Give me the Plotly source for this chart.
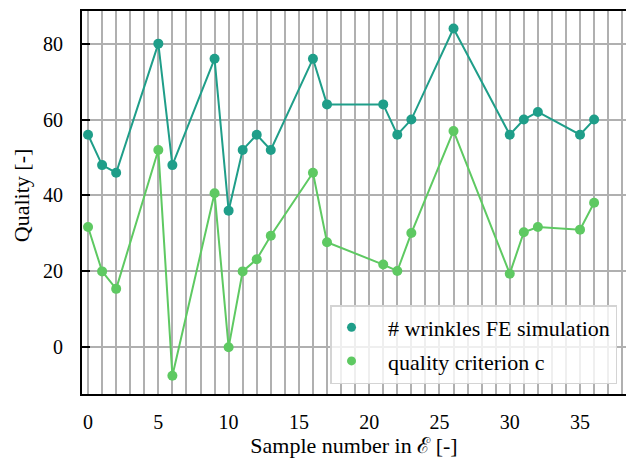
import plotly.graph_objects as go

x_samples = [0, 1, 2, 5, 6, 9, 10, 11, 12, 13, 16, 17, 21, 22, 23, 26, 30, 31, 32, 35, 36]
wrinkles = [56, 48, 46, 80, 48, 76, 36, 52, 56, 52, 76, 64, 64, 56, 60, 84, 56, 60, 62, 56, 60]
quality_c = [31.7, 20, 15.4, 52, -7.5, 40.6, 0, 20, 23.2, 29.4, 46, 27.7, 21.8, 20.1, 30.1, 57, 19.4, 30.3, 31.7, 31, 38.1]
x_ticks = [0, 5, 10, 15, 20, 25, 30, 35]
y_ticks = [0, 20, 40, 60, 80]

names = ["# wrinkles FE simulation", "quality criterion c"]
colors = ["#1f9e89", "#5ec962"]
series = [wrinkles, quality_c]

fig = go.Figure()
for name, col, ys in zip(names, colors, series):
    fig.add_trace(go.Scatter(x=x_samples, y=ys, mode="lines+markers", showlegend=False,
                             line=dict(color=col, width=2), marker=dict(color=col, size=10)))
for name, col in zip(names, colors):
    fig.add_trace(go.Scatter(x=[None], y=[None], mode="markers", name="\u00a0\u00a0\u00a0" + name,
                             legendgroup=name, marker=dict(color=col, size=9), yaxis="y2"))

fam = "Liberation Serif"
fig.add_annotation(text="Quality [-]", textangle=-90, xref="paper", yref="paper",
                   x=-0.110, y=0.517, xanchor="center", yanchor="middle", showarrow=False,
                   font=dict(family=fam, size=22, color="#000000"))
yrange = [-12.3, 88.6]
fig.update_layout(
    width=626, height=465,
    margin=dict(l=82, r=0, t=11, b=71),
    plot_bgcolor="white", paper_bgcolor="white",
    font=dict(family=fam, size=20, color="#000000"),
    legend=dict(x=0.9835, xanchor="right", y=0.026, yanchor="bottom",
                bgcolor="rgba(255,255,255,0.8)", bordercolor="#d4d4d4", borderwidth=1.5,
                font=dict(size=22), tracegroupgap=2, traceorder="grouped"),
    xaxis=dict(range=[-0.43, 38.27], tickmode="array", tickvals=x_ticks,
               showgrid=True, gridcolor="#b0b0b0", gridwidth=1.5,
               minor=dict(dtick=1, tick0=0, showgrid=True, gridcolor="#b0b0b0", gridwidth=1.5),
               showline=True, linecolor="black", linewidth=2, mirror=True,
               ticks="outside", ticklen=9, tickcolor="rgba(0,0,0,0)",
               title=dict(text="Sample number in ℰ [-]", font=dict(size=22), standoff=0),
               zeroline=False),
    yaxis=dict(range=yrange, tickmode="array", tickvals=y_ticks,
               showgrid=True, gridcolor="#b0b0b0", gridwidth=1.5,
               showline=True, linecolor="black", linewidth=2,
               ticks="outside", ticklen=13, tickcolor="rgba(0,0,0,0)",
               zeroline=False),
    yaxis2=dict(range=yrange, tickmode="array", tickvals=y_ticks, overlaying="y", side="left",
                showgrid=False, showline=False, showticklabels=False,
                ticks="inside", ticklen=8, tickcolor="black", tickwidth=1.5, zeroline=False),
)
fig.write_html("out.html")
